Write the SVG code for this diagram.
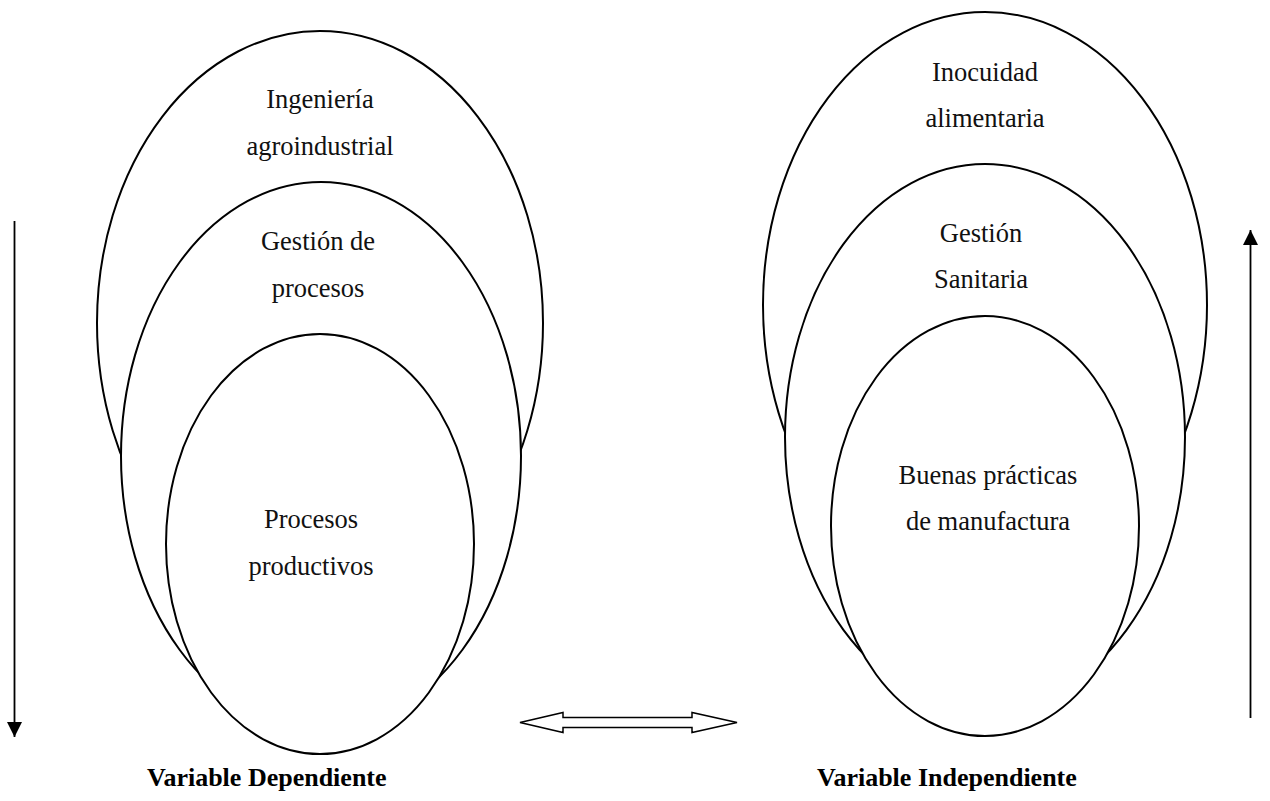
<svg xmlns="http://www.w3.org/2000/svg" width="1270" height="801" viewBox="0 0 1270 801">
  <style>
    .ring { fill: #ffffff; stroke: #000000; stroke-width: 2; }
    .lbl { font-family: "Liberation Serif", "Times New Roman", serif; font-size: 26.5px; fill: #111111; text-anchor: middle; }
    .var { font-family: "Liberation Serif", "Times New Roman", serif; font-size: 26px; font-weight: bold; fill: #000000; }
    .axis { stroke: #000000; stroke-width: 1.8; fill: none; }
  </style>
  <defs>
    <marker id="head" viewBox="0 0 10 10" refX="10" refY="5" markerWidth="15" markerHeight="15" markerUnits="userSpaceOnUse" orient="auto">
      <path d="M0,0 L10,5 L0,10 Z" fill="#000000"/>
    </marker>
  </defs>

  <rect width="1270" height="801" fill="#ffffff"/>

  <!-- Left nest: dependent variable -->
  <g id="ingenieria-agroindustrial">
    <ellipse class="ring" cx="320" cy="323" rx="223" ry="292"/>
    <text class="lbl" x="320" y="108">Ingeniería</text>
    <text class="lbl" x="320" y="155">agroindustrial</text>
  </g>
  <g id="gestion-procesos">
    <ellipse class="ring" cx="321" cy="456" rx="200" ry="274"/>
    <text class="lbl" x="318" y="250">Gestión de</text>
    <text class="lbl" x="318" y="297">procesos</text>
  </g>
  <g id="procesos-productivos">
    <ellipse class="ring" cx="320" cy="544" rx="154" ry="210"/>
    <text class="lbl" x="311" y="528">Procesos</text>
    <text class="lbl" x="311" y="575">productivos</text>
  </g>

  <!-- Right nest: independent variable -->
  <g id="inocuidad-alimentaria">
    <ellipse class="ring" cx="985" cy="305" rx="222" ry="293"/>
    <text class="lbl" x="985" y="81">Inocuidad</text>
    <text class="lbl" x="985" y="127">alimentaria</text>
  </g>
  <g id="gestion-sanitaria">
    <ellipse class="ring" cx="985" cy="437" rx="200" ry="273"/>
    <text class="lbl" x="981" y="242">Gestión</text>
    <text class="lbl" x="981" y="288">Sanitaria</text>
  </g>
  <g id="buenas-practicas">
    <ellipse class="ring" cx="985" cy="526" rx="154" ry="210"/>
    <text class="lbl" x="988" y="484">Buenas prácticas</text>
    <text class="lbl" x="988" y="530">de manufactura</text>
  </g>

  <!-- Connectors -->
  <g id="connectors">
    <line class="axis" x1="14.5" y1="221" x2="14.5" y2="737" marker-end="url(#head)"/>
    <line class="axis" x1="1250.5" y1="718" x2="1250.5" y2="230" marker-end="url(#head)"/>
    <polygon points="520,722.5 563,712.5 563,717.5 692,717.5 692,712.5 737,722.5 692,732.5 692,727.5 563,727.5 563,732.5" fill="#ffffff" stroke="#000000" stroke-width="1.5" stroke-linejoin="miter"/>
  </g>

  <g id="variable-dependiente">
    <text class="var" x="147" y="786">Variable Dependiente</text>
  </g>
  <g id="variable-independiente">
    <text class="var" x="817" y="786">Variable Independiente</text>
  </g>
</svg>
